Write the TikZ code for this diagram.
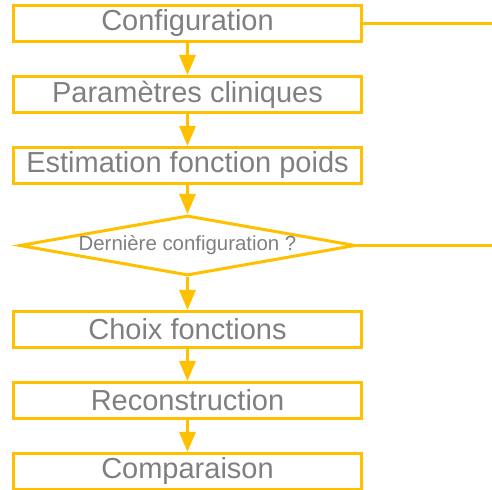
\documentclass[tikz,border=0pt]{standalone}
\usepackage{fontspec}
\setsansfont{Liberation Sans}
\usepackage{xcolor}
\usepackage{tikz}
\usetikzlibrary{shapes.geometric, arrows.meta, positioning}
\definecolor{accentgold}{RGB}{255,192,0}
\definecolor{textgray}{RGB}{127,127,127}

\begin{document}
\begin{tikzpicture}[
    node distance=16pt,
    block/.style={rectangle, draw=accentgold, line width=1.5pt, minimum width=174pt, minimum height=18pt, inner sep=0pt, text=textgray, font=\sffamily\fontsize{14.5pt}{17pt}\selectfont},
    decision/.style={diamond, draw=accentgold, line width=1.5pt, aspect=5.75, minimum width=168pt, minimum height=30pt, inner sep=0pt, text=textgray, font=\sffamily\fontsize{10.2pt}{12pt}\selectfont},
    arrow/.style={-{Triangle[length=10pt, width=8pt]}, draw=accentgold, line width=1.5pt},
    link/.style={draw=accentgold, line width=1.5pt}
]
\useasboundingbox (0,0) rectangle (246pt,-245pt);
\coordinate (rightedge) at (246pt,0);

\node[block] (config) at (93.75pt,-11.75pt) {Configuration};
\node[block, below=of config] (params) {Paramètres cliniques};
\node[block, below=of params] (weight) {Estimation fonction poids};
\node[decision, below=14.5pt of weight] (last) {Dernière configuration ?};
\node[block, below=16.5pt of last] (choice) {Choix fonctions};
\node[block, below=of choice] (recon) {Reconstruction};
\node[block, below=of recon] (compare) {Comparaison};

\draw[arrow] (config) -- (params);
\draw[arrow] (params) -- (weight);
\draw[arrow] (weight) -- (last);
\draw[arrow] (last) -- (choice);
\draw[arrow] (choice) -- (recon);
\draw[arrow] (recon) -- (compare);

% lines leaving the picture on the right
\draw[link] (config.east) -- (config.east -| rightedge);
\draw[link] (last.east) -- (last.east -| rightedge);
\end{tikzpicture}
\end{document}
